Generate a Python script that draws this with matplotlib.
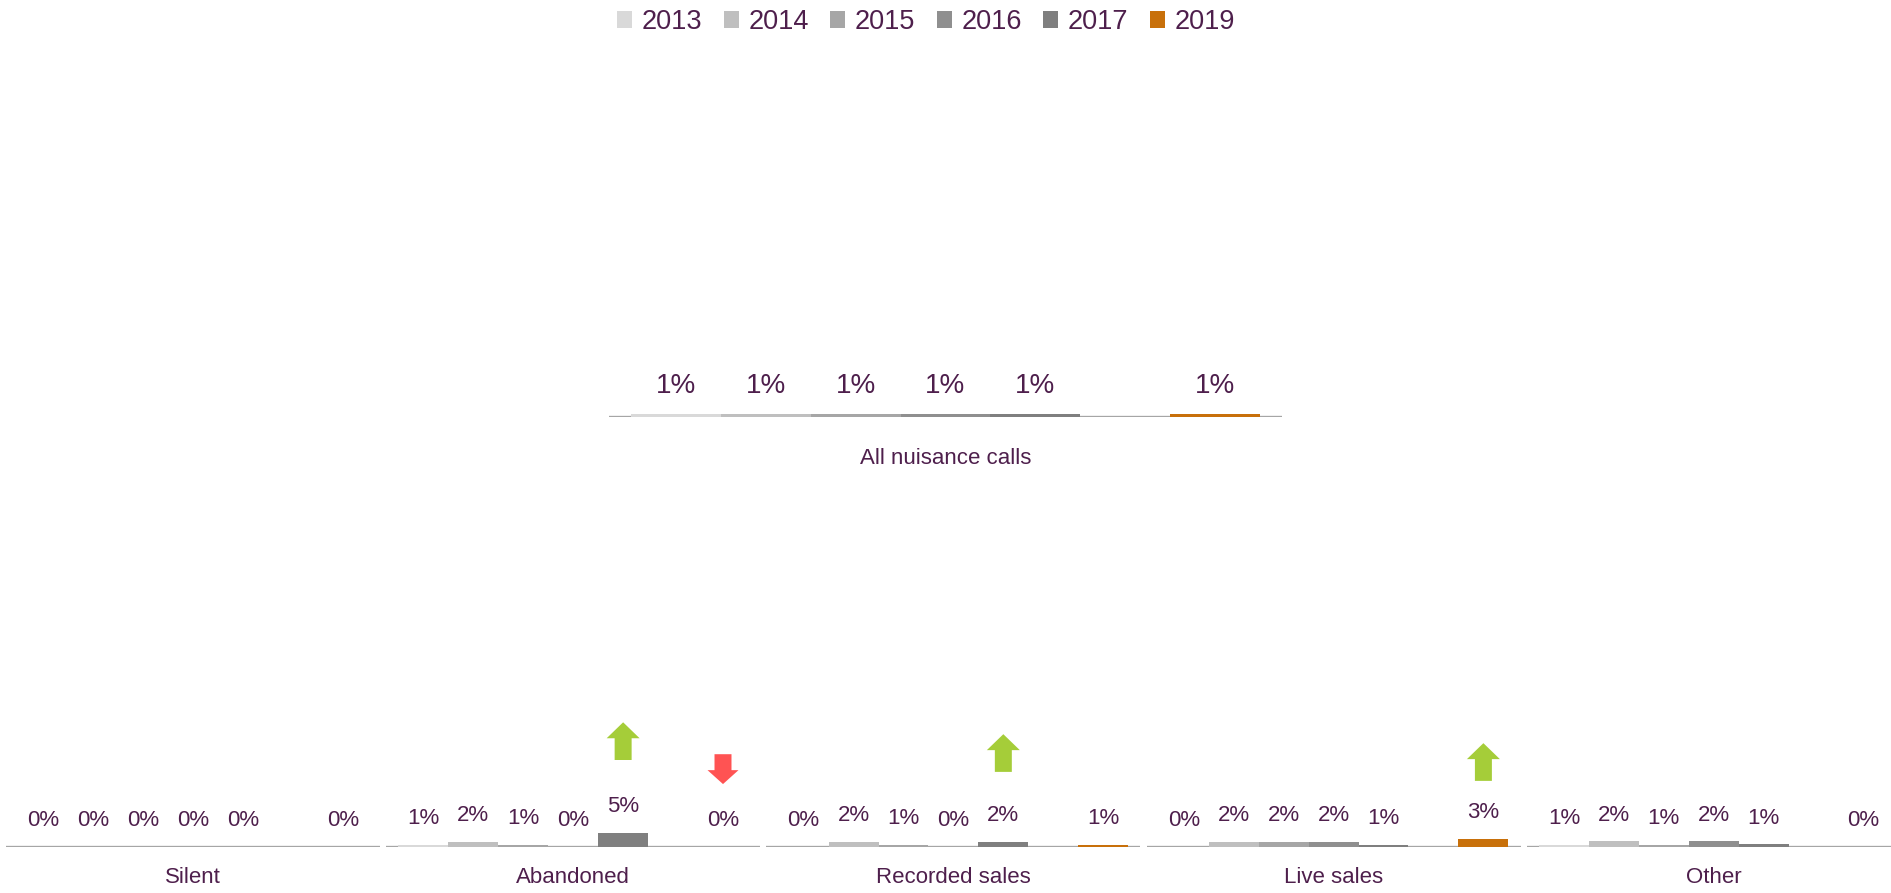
import matplotlib.pyplot as plt
from matplotlib.patches import Patch, FancyArrow

plt.rcParams['font.family'] = ['Liberation Sans', 'DejaVu Sans']

# data (percent)
years = ['2013', '2014', '2015', '2016', '2017', '2019']
slots = [0, 1, 2, 3, 4, 6]          # 2018 slot left empty
colors = ['#D9D9D9', '#BFBFBF', '#A6A6A6', '#8F8F8F', '#7F7F7F', '#C8700A']

all_calls = [1.0, 1.0, 1.0, 1.1, 1.2, 1.1]

categories = ['Silent', 'Abandoned', 'Recorded sales', 'Live sales', 'Other']
silent = [0.0, 0.0, 0.0, 0.0, 0.0, 0.0]
abandoned = [0.6, 1.7, 0.7, 0.0, 4.8, 0.0]
recorded = [0.0, 1.7, 0.8, 0.0, 1.7, 0.7]
live = [0.0, 1.7, 1.7, 1.6, 0.8, 2.8]
other = [0.8, 1.9, 0.8, 1.9, 0.9, 0.0]
panels = [silent, abandoned, recorded, live, other]

# significance arrows: (panel, year, direction)
arrows = [('Abandoned', '2017', 'up'), ('Abandoned', '2019', 'down'),
          ('Recorded sales', '2017', 'up'), ('Live sales', '2019', 'up')]
arrow_base = [30.0, 32.0, 25.9, 22.8]   # vertical placement (percent units)

TXT = '#4E1F4C'
AXC = '#A6A6A6'
W, H = 1891, 893

fig = plt.figure(figsize=(W / 100, H / 100), dpi=100)


def draw_panel(ax, vals, name, lab_fs, name_fs, lab_off, name_off):
    ax.bar(slots, vals, width=1.0, color=colors, zorder=3)
    ax.set_xlim(-0.745, 6.745)
    ax.set_ylim(0, 100)
    ax.axhline(0, color=AXC, lw=2.4, zorder=2)
    ax.axis('off')
    for s, v in zip(slots, vals):
        ax.annotate(f'{v:.0f}%', (s, v), xytext=(0, lab_off), textcoords='offset points',
                    ha='center', va='center', fontsize=lab_fs, color=TXT, annotation_clip=False)
    ax.annotate(name, (0.5, 0), xycoords='axes fraction', xytext=(0, -name_off),
                textcoords='offset points', ha='center', va='center', fontsize=name_fs,
                color=TXT, annotation_clip=False)


ax_top = fig.add_axes([609 / W, (H - 417) / H, 673 / W, 290 / H])
draw_panel(ax_top, all_calls, 'All nuisance calls', 20, 16, 20, 30)

axes = {}
for i, (cat, vals) in enumerate(zip(categories, panels)):
    ax = fig.add_axes([(6 + i * 380.2) / W, (H - 847) / H, 374 / W, 290 / H])
    draw_panel(ax, vals, cat, 16, 16, 19, 22)
    axes[cat] = ax

for (cat, yr, d), base in zip(arrows, arrow_base):
    ax = axes[cat]
    x = slots[years.index(yr)]
    if d == 'up':
        arr = FancyArrow(x, base, 0, 13.0, width=0.34, head_width=0.66, head_length=5.5,
                         length_includes_head=True, color='#A5CD39', lw=0, clip_on=False)
    else:
        arr = FancyArrow(x, base, 0, -10.3, width=0.34, head_width=0.62, head_length=4.8,
                         length_includes_head=True, color='#FF5353', lw=0, clip_on=False)
    ax.add_patch(arr)

handles = [Patch(facecolor=c, edgecolor='none') for c in colors]
fig.legend(handles, years, loc='center', bbox_to_anchor=(926 / W, 1 - 22 / H), ncol=6,
           frameon=False, fontsize=19.5, handlelength=0.55, handleheight=0.55,
           handletextpad=0.35, columnspacing=0.8, labelcolor=TXT)

fig.savefig('out.png', dpi=100, facecolor='white')
